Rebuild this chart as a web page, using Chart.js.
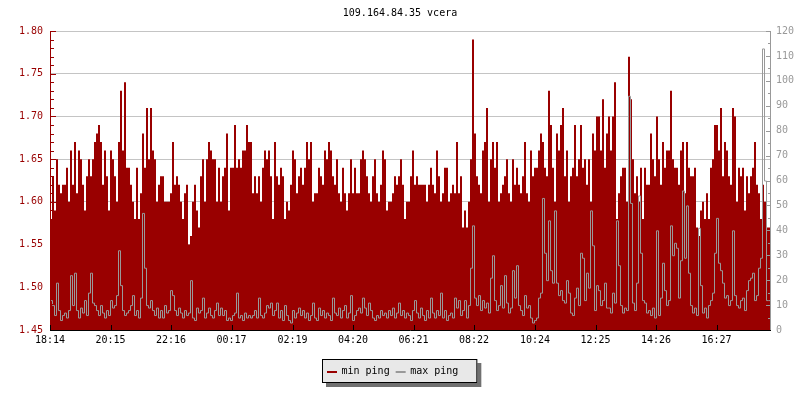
<!DOCTYPE html>
<html><head><meta charset="utf-8">
<script src="https://cdn.jsdelivr.net/npm/chart.js@4/dist/chart.umd.min.js"></script>
<style>html,body{margin:0;padding:0;background:#fff}</style>
</head><body>
<canvas id="c" width="800" height="400"></canvas>
<script>
const TITLE = '109.164.84.35 vcera';
const SERIES_NAMES = ['min ping', 'max ping'];
const START_TIME = '18:14';
const STEP_MINUTES = 4;
const timeTickLabels = ['18:14','20:15','22:16','00:17','02:19','04:20','06:21','08:22','10:24','12:25','14:26','16:27'];
const leftTicks = [1.45,1.50,1.55,1.60,1.65,1.70,1.75,1.80];
const rightTicks = [0,10,20,30,40,50,60,70,80,90,100,110,120];

const minPing = [
1.62,1.58,1.63,1.59,1.65,1.62,1.61,1.62,1.62,1.64,1.60,1.66,1.62,1.67,1.61,1.66,1.65,1.62,1.59,1.63,1.65,1.63,1.65,1.67,1.68,1.69,1.67,1.62,1.66,1.63,1.59,1.66,1.65,1.63,1.60,1.67,1.73,1.66,1.74,1.64,1.64,1.62,1.60,1.58,1.64,1.58,1.61,1.68,1.64,1.71,1.65,1.71,1.66,1.65,1.60,1.62,1.63,1.63,1.60,1.60,
1.60,1.61,1.67,1.62,1.63,1.62,1.60,1.58,1.61,1.62,1.55,1.56,1.60,1.62,1.59,1.57,1.63,1.65,1.60,1.65,1.67,1.66,1.65,1.65,1.60,1.64,1.60,1.63,1.64,1.68,1.59,1.64,1.64,1.69,1.64,1.65,1.64,1.66,1.66,1.69,1.67,1.67,1.61,1.63,1.61,1.63,1.60,1.64,1.66,1.65,1.66,1.63,1.58,1.67,1.63,1.62,1.64,1.63,1.58,1.60,
1.59,1.62,1.66,1.65,1.61,1.63,1.64,1.62,1.64,1.67,1.65,1.67,1.60,1.61,1.61,1.64,1.63,1.62,1.66,1.65,1.67,1.66,1.63,1.62,1.65,1.61,1.60,1.64,1.61,1.59,1.61,1.65,1.61,1.64,1.61,1.61,1.65,1.66,1.65,1.63,1.61,1.60,1.63,1.65,1.61,1.60,1.62,1.66,1.65,1.59,1.60,1.60,1.61,1.63,1.62,1.63,1.65,1.62,1.58,1.60,
1.60,1.63,1.66,1.62,1.63,1.62,1.62,1.62,1.62,1.60,1.62,1.64,1.62,1.61,1.66,1.63,1.60,1.61,1.64,1.64,1.60,1.61,1.62,1.61,1.67,1.61,1.63,1.57,1.59,1.57,1.60,1.65,1.79,1.68,1.63,1.62,1.61,1.66,1.67,1.71,1.60,1.65,1.67,1.64,1.67,1.60,1.61,1.62,1.63,1.65,1.61,1.60,1.65,1.62,1.64,1.62,1.61,1.63,1.67,1.61,
1.60,1.66,1.63,1.64,1.64,1.66,1.68,1.67,1.64,1.63,1.73,1.69,1.64,1.60,1.68,1.66,1.69,1.71,1.63,1.66,1.60,1.63,1.64,1.69,1.63,1.65,1.69,1.64,1.65,1.62,1.65,1.60,1.68,1.66,1.70,1.70,1.66,1.72,1.64,1.68,1.70,1.66,1.70,1.74,1.58,1.61,1.63,1.64,1.64,1.60,1.77,1.72,1.65,1.61,1.63,1.60,1.64,1.58,1.64,1.62,
1.62,1.68,1.65,1.63,1.70,1.65,1.62,1.67,1.64,1.66,1.66,1.73,1.65,1.64,1.64,1.62,1.66,1.67,1.61,1.67,1.64,1.63,1.63,1.64,1.57,1.56,1.59,1.60,1.58,1.61,1.58,1.64,1.65,1.69,1.69,1.66,1.71,1.63,1.67,1.66,1.63,1.62,1.71,1.70,1.60,1.64,1.63,1.64,1.59,1.63,1.61,1.63,1.64,1.67,1.62,1.61,1.58,1.62,1.60,1.57
];

const maxPing = [
8,12,10,6,19,8,4,6,7,5,8,22,10,23,8,5,9,7,12,6,15,23,11,10,8,6,10,7,5,8,6,12,9,10,14,32,18,8,6,7,8,10,14,6,8,5,13,47,25,10,9,12,8,6,9,5,8,5,10,7,
8,16,14,8,6,9,7,5,8,6,7,20,5,4,9,7,8,13,5,7,9,6,5,8,11,6,9,6,8,4,5,4,6,7,15,5,6,4,7,5,6,5,6,8,5,13,6,5,7,10,9,11,6,8,11,5,8,4,10,6,
4,3,8,5,7,9,6,8,5,7,4,6,11,5,4,9,6,8,5,7,6,4,13,7,6,9,5,8,10,5,7,14,4,6,8,9,7,13,9,6,11,8,5,4,6,5,8,6,7,5,8,6,9,5,7,11,6,8,5,7,
6,4,8,12,7,5,9,6,4,8,5,13,7,5,8,6,15,5,8,4,6,7,5,13,9,12,6,8,12,5,10,25,42,13,10,14,8,12,9,11,7,21,30,12,8,10,18,9,22,11,7,9,24,13,26,10,8,6,14,9,
10,5,3,4,5,13,15,53,31,20,44,24,19,48,19,14,16,12,11,20,15,7,6,13,17,10,31,29,12,23,17,48,34,8,18,16,10,12,19,9,9,7,15,11,44,26,10,7,9,8,94,51,11,8,19,54,31,12,11,7,
8,6,9,5,40,6,13,27,16,10,12,42,30,35,33,13,28,56,29,50,23,10,7,9,6,41,18,7,9,5,10,12,15,31,45,27,24,19,13,14,10,12,40,14,10,9,12,13,8,16,20,21,23,12,14,25,29,113,60,12
];

const RED = '#990000';
const GRAY = '#999999';
const MONO = '"DejaVu Sans Mono", monospace';

function toMin(s){ const [h,m] = s.split(':').map(Number); return h*60+m; }
const startMin = toMin(START_TIME);
const tickMinutes = timeTickLabels.map(l => (toMin(l) - startMin + 1440) % 1440);
const totalMin = minPing.length * STEP_MINUTES;
function toStepPts(arr){
  const p = arr.map((v,i)=>({x:i*STEP_MINUTES, y:v}));
  p.push({x:arr.length*STEP_MINUTES, y:arr[arr.length-1]});
  return p;
}

const crispLine = {
  id:'crispLine',
  beforeDatasetDraw(chart, args){
    if (args.index === 1){ chart.ctx.save(); chart.ctx.translate(0.5, 0.5); }
  },
  afterDatasetDraw(chart, args){
    if (args.index === 1){ chart.ctx.restore(); }
  }
};

const axisDecor = {
  id:'axisDecor',
  afterDatasetsDraw(chart){
    const ctx = chart.ctx, a = chart.chartArea;
    const y = chart.scales.y, y2 = chart.scales.y2, x = chart.scales.x;
    ctx.save();
    ctx.lineWidth = 1;
    ctx.strokeStyle = RED;
    ctx.beginPath();
    ctx.moveTo(a.left+0.5, a.top); ctx.lineTo(a.left+0.5, a.bottom);
    for (let k=Math.round(leftTicks[0]*100); k<=Math.round(leftTicks[leftTicks.length-1]*100); k++){
      const py = Math.round(y.getPixelForValue(k/100))+0.5;
      const len = (k%5===0)?5:3;
      ctx.moveTo(a.left, py); ctx.lineTo(a.left+len+1, py);
    }
    ctx.stroke();
    ctx.strokeStyle = GRAY;
    ctx.beginPath();
    ctx.moveTo(a.right+0.5, a.top); ctx.lineTo(a.right+0.5, a.bottom);
    for (let v=rightTicks[0]; v<=rightTicks[rightTicks.length-1]; v+=5){
      const py = Math.round(y2.getPixelForValue(v))+0.5;
      const len = (v%10===0)?4:2;
      ctx.moveTo(a.right+1, py); ctx.lineTo(a.right-len, py);
    }
    ctx.stroke();
    ctx.strokeStyle = '#000';
    ctx.beginPath();
    ctx.moveTo(a.left, a.bottom+0.5); ctx.lineTo(a.right+1, a.bottom+0.5);
    tickMinutes.forEach(m=>{
      const px = Math.round(x.getPixelForValue(m))+0.5;
      ctx.moveTo(px, a.bottom+1); ctx.lineTo(px, a.bottom-5);
    });
    ctx.stroke();
    ctx.restore();
  }
};

const legendBox = {
  id:'legendBox',
  afterDraw(chart){
    const ctx = chart.ctx;
    ctx.save();
    ctx.font = '10px ' + MONO;
    const ds = chart.data.datasets;
    const w0 = ctx.measureText(ds[0].label).width;
    const w1 = ctx.measureText(ds[1].label).width;
    const boxW = 5 + 10 + 4.5 + w0 + 6 + 10 + 4.5 + w1 + 19;
    const x0 = Math.round(400 - boxW/2), y0 = 359, h = 24;
    ctx.fillStyle = '#707070';
    ctx.fillRect(x0+4, y0+4, boxW, h);
    ctx.fillStyle = '#e8e8e8';
    ctx.fillRect(x0, y0, boxW, h);
    ctx.strokeStyle = '#000'; ctx.lineWidth = 1;
    ctx.strokeRect(x0+0.5, y0+0.5, boxW-1, h-1);
    let cx = x0 + 5;
    const cy = y0 + 12;
    ds.forEach((d,i)=>{
      ctx.fillStyle = d.backgroundColor;
      ctx.fillRect(cx, cy, 10, 2);
      cx += 14.5;
      ctx.fillStyle = '#000';
      ctx.textBaseline = 'middle';
      ctx.textAlign = 'left';
      ctx.fillText(d.label, cx, cy+0.5);
      cx += (i===0?w0:w1) + 6;
    });
    ctx.restore();
  }
};

Chart.defaults.font.family = MONO;
Chart.defaults.font.size = 10;

new Chart(document.getElementById('c'), {
  type:'line',
  data:{datasets:[
    {label:SERIES_NAMES[0], data:toStepPts(minPing), yAxisID:'y', stepped:'after', fill:'start',
     backgroundColor:RED, borderColor:'rgba(0,0,0,0)', borderWidth:1, pointRadius:0, order:2},
    {label:SERIES_NAMES[1], data:toStepPts(maxPing), yAxisID:'y2', stepped:'after', fill:false,
     borderColor:GRAY, backgroundColor:GRAY, borderWidth:1, pointRadius:0, order:1}
  ]},
  options:{
    responsive:false, animation:false, events:[],
    layout:{padding:0},
    plugins:{
      legend:{display:false},
      tooltip:{enabled:false},
      title:{display:true, text:TITLE, color:'#000', font:{family:MONO, size:10, weight:'normal'}, padding:{top:7, bottom:12}}
    },
    scales:{
      x:{type:'linear', min:0, max:totalMin,
         afterBuildTicks:s=>{ s.ticks = tickMinutes.map(v=>({value:v})); },
         afterFit:s=>{ s.height = 70; },
         grid:{display:false, drawTicks:false},
         border:{display:false},
         ticks:{color:'#000', font:{family:MONO,size:10}, padding:4, maxRotation:0, autoSkip:false,
                callback:(v,i)=>timeTickLabels[i]}},
      y:{position:'left', min:leftTicks[0], max:leftTicks[leftTicks.length-1],
         afterBuildTicks:s=>{ s.ticks = leftTicks.map(v=>({value:v})); },
         afterFit:s=>{ s.width = 50; },
         grid:{color:'#c4c4c4', drawTicks:false},
         border:{display:false},
         ticks:{color:RED, font:{family:MONO,size:10}, padding:7, callback:v=>Number(v).toFixed(2)}},
      y2:{position:'right', min:rightTicks[0], max:rightTicks[rightTicks.length-1],
         afterBuildTicks:s=>{ s.ticks = rightTicks.map(v=>({value:v})); },
         afterFit:s=>{ s.width = 30; },
         grid:{display:false, drawTicks:false},
         border:{display:false},
         ticks:{color:GRAY, font:{family:MONO,size:10}, padding:6}}
    }
  },
  plugins:[crispLine, axisDecor, legendBox]
});
</script>
</body></html>
